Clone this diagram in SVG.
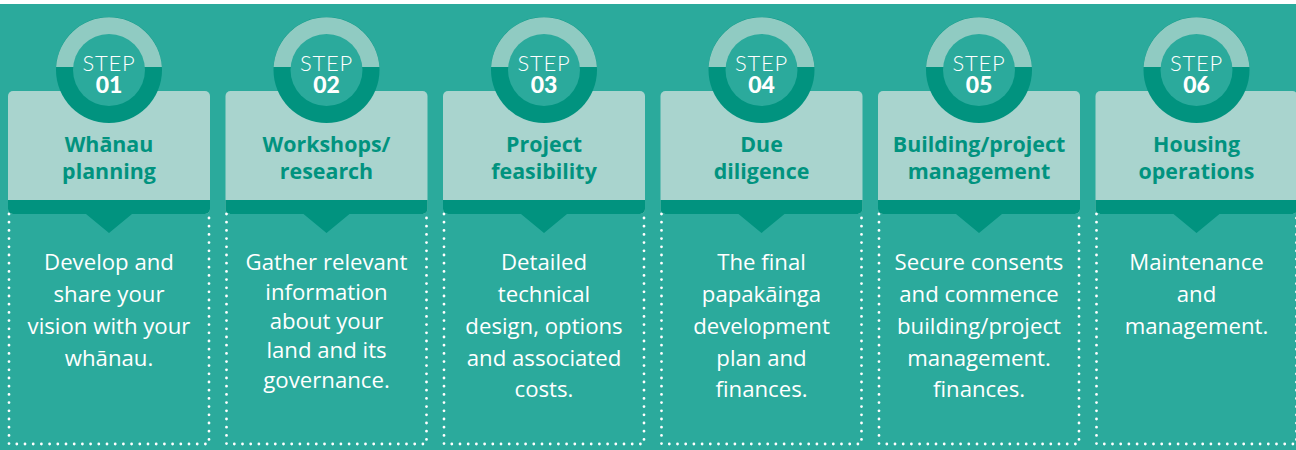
<svg xmlns="http://www.w3.org/2000/svg" width="1296" height="450" viewBox="0 0 1296 450">
  <defs>
    <style>
      .bg { fill: #2baa9c; }
      .card { fill: #a9d4ce; }
      .band { fill: #01937f; }
      .dots { fill: none; stroke: #ffffff; stroke-width: 2.8; stroke-linecap: round; stroke-dasharray: 0 8.2; }
      .ring-lo { fill: #01937f; }
      .ring-hi { fill: #90cbc2; }
      .hub { fill: #2baa9c; }
      .step { font-family: Lato, "Liberation Sans", sans-serif; font-weight: 300; font-size: 22px; letter-spacing: 0.8px; fill: #ffffff; text-anchor: middle; }
      .num { font-family: Lato, "Liberation Sans", sans-serif; font-weight: 900; font-size: 23px; fill: #ffffff; text-anchor: middle; }
      .title { font-family: "Open Sans", "Liberation Sans", sans-serif; font-weight: 700; font-size: 21.4px; fill: #01937f; text-anchor: middle; }
      .body { font-family: "Open Sans", "Liberation Sans", sans-serif; font-weight: 400; font-size: 22.2px; fill: #ffffff; text-anchor: middle; }
    </style>
    <!-- one step tile, centred on x = 0 -->
    <g id="tile">
      <path class="dots" d="M -100 214 V 444 H 100 V 214"/>
      <rect class="card" x="-101" y="91" width="202" height="123" rx="5"/>
      <path class="band" d="M -101 200 H 101 V 209 A 5 5 0 0 1 96 214 H 23 L 0 233 L -23 214 H -96 A 5 5 0 0 1 -101 209 Z"/>
      <circle class="ring-lo" cx="0" cy="70" r="53"/>
      <path class="ring-hi" d="M -52.9 67 A 53 53 0 0 1 52.9 67 Z"/>
      <circle class="hub" cx="0" cy="70" r="36"/>
      <text class="step" x="0" y="71">STEP</text>
    </g>
  </defs>

  <rect x="0" y="0" width="1296" height="450" fill="#ffffff"/>
  <rect class="bg" x="0" y="4" width="1296" height="446"/>

  <g id="step-01" transform="translate(109 0)">
    <use href="#tile"/>
    <text class="num" x="0" y="93">01</text>
    <text class="title" x="0" y="152">Whānau</text>
    <text class="title" x="0" y="179">planning</text>
    <text class="body" x="0" y="270">Develop and</text>
    <text class="body" x="0" y="302">share your</text>
    <text class="body" x="0" y="334">vision with your</text>
    <text class="body" x="0" y="366">whānau.</text>
  </g>

  <g id="step-02" transform="translate(326.5 0)">
    <use href="#tile"/>
    <text class="num" x="0" y="93">02</text>
    <text class="title" x="0" y="152">Workshops/</text>
    <text class="title" x="0" y="179">research</text>
    <text class="body" x="0" y="270">Gather relevant</text>
    <text class="body" x="0" y="300">information</text>
    <text class="body" x="0" y="329">about your</text>
    <text class="body" x="0" y="358">land and its</text>
    <text class="body" x="0" y="388">governance.</text>
  </g>

  <g id="step-03" transform="translate(544 0)">
    <use href="#tile"/>
    <text class="num" x="0" y="93">03</text>
    <text class="title" x="0" y="152">Project</text>
    <text class="title" x="0" y="179">feasibility</text>
    <text class="body" x="0" y="270">Detailed</text>
    <text class="body" x="0" y="302">technical</text>
    <text class="body" x="0" y="334">design, options</text>
    <text class="body" x="0" y="366">and associated</text>
    <text class="body" x="0" y="397">costs.</text>
  </g>

  <g id="step-04" transform="translate(761.5 0)">
    <use href="#tile"/>
    <text class="num" x="0" y="93">04</text>
    <text class="title" x="0" y="152">Due</text>
    <text class="title" x="0" y="179">diligence</text>
    <text class="body" x="0" y="270">The final</text>
    <text class="body" x="0" y="302">papakāinga</text>
    <text class="body" x="0" y="334">development</text>
    <text class="body" x="0" y="366">plan and</text>
    <text class="body" x="0" y="397">finances.</text>
  </g>

  <g id="step-05" transform="translate(979 0)">
    <use href="#tile"/>
    <text class="num" x="0" y="93">05</text>
    <text class="title" x="0" y="152">Building/project</text>
    <text class="title" x="0" y="179">management</text>
    <text class="body" x="0" y="270">Secure consents</text>
    <text class="body" x="0" y="302">and commence</text>
    <text class="body" x="0" y="334">building/project</text>
    <text class="body" x="0" y="366">management.</text>
    <text class="body" x="0" y="397">finances.</text>
  </g>

  <g id="step-06" transform="translate(1196.5 0)">
    <use href="#tile"/>
    <text class="num" x="0" y="93">06</text>
    <text class="title" x="0" y="152">Housing</text>
    <text class="title" x="0" y="179">operations</text>
    <text class="body" x="0" y="270">Maintenance</text>
    <text class="body" x="0" y="302">and</text>
    <text class="body" x="0" y="334">management.</text>
  </g>
</svg>
